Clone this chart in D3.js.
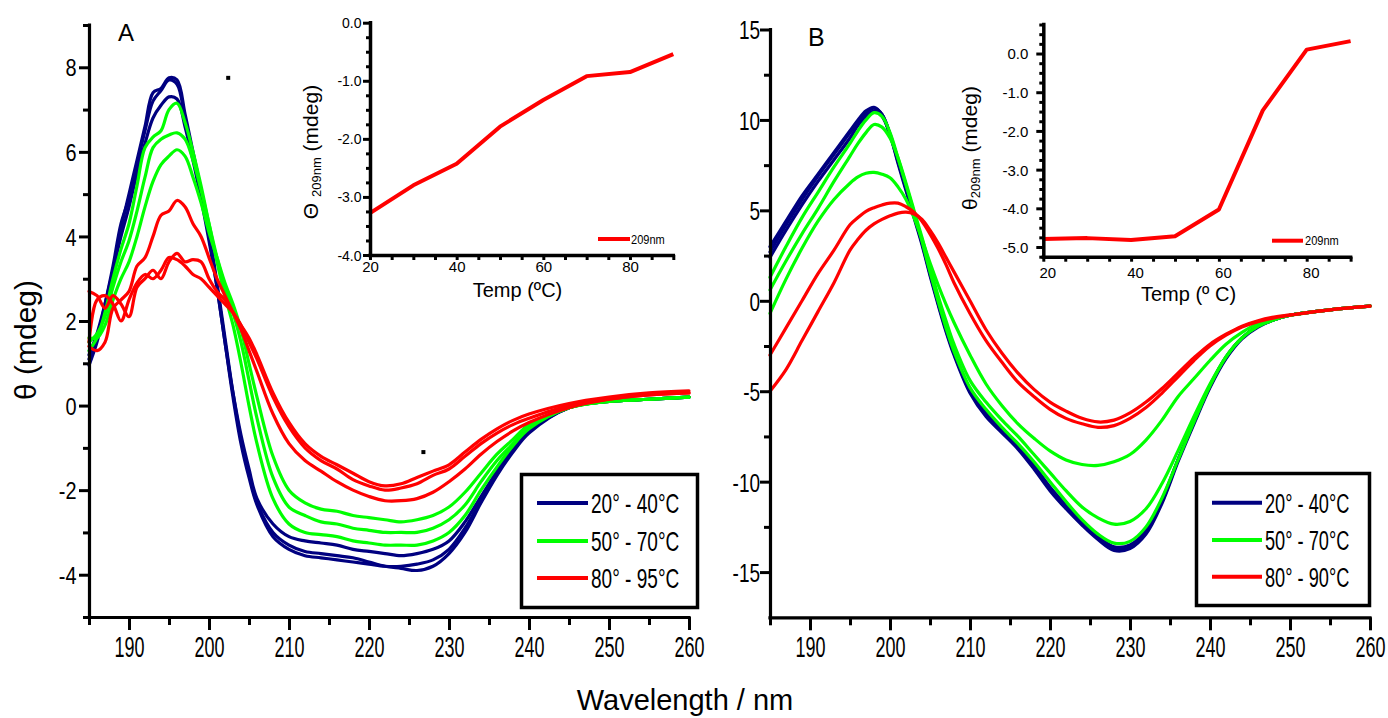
<!DOCTYPE html>
<html>
<head>
<meta charset="utf-8">
<script src="https://cdn.jsdelivr.net/npm/d3@7"></script>
<style>
  body { margin: 0; background: #fff; }
  svg { display: block; }
</style>
</head>
<body>
<svg id="chart" width="1388" height="718"></svg>
<script>
// ---------------- DATA ----------------
// Panel A: wavelengths (nm) and ellipticity (mdeg)
const wavesA = [185,186,187,188,189,190,191,192,193,194,195,196,197,198,199,200,201,202,203,204,205,
  206,208,210,212,214,216,218,220,222,224,226,228,230,232,234,236,238,240,245,250,255,260];
const A_20C = [0.95,1.5,2.3,3.2,4.2,5.0,5.8,6.6,7.4,7.5,7.75,7.7,6.9,6.0,5.1,4.1,2.9,1.6,0.3,-0.8,-1.6,
  -2.3,-3.0,-3.3,-3.45,-3.5,-3.55,-3.6,-3.7,-3.8,-3.85,-3.9,-3.8,-3.5,-3.0,-2.3,-1.65,-1.1,-0.65,-0.05,0.1,0.15,0.2];
const A_30C = [1.1,1.6,2.4,3.3,4.3,4.9,5.7,6.5,7.2,7.45,7.7,7.6,6.8,5.9,5.0,4.0,2.8,1.5,0.2,-0.9,-1.7,
  -2.35,-3.1,-3.4,-3.55,-3.6,-3.65,-3.7,-3.75,-3.8,-3.8,-3.75,-3.65,-3.4,-2.9,-2.25,-1.6,-1.05,-0.6,-0.05,0.1,0.15,0.2];
const A_40C = [1.2,1.7,2.4,3.2,4.0,4.7,5.5,6.2,6.8,7.1,7.3,7.25,6.6,5.8,4.9,3.9,2.8,1.5,0.3,-0.7,-1.5,
  -2.2,-2.8,-3.1,-3.2,-3.25,-3.3,-3.4,-3.45,-3.5,-3.55,-3.5,-3.4,-3.2,-2.75,-2.15,-1.55,-1.0,-0.6,-0.05,0.1,0.15,0.2];
const A_50C = [1.3,1.6,2.2,3.0,3.7,4.3,5.2,6.1,6.35,6.5,7.0,7.15,6.7,6.0,5.2,4.3,3.4,2.6,1.9,1.0,0.0,
  -0.9,-2.2,-2.8,-3.0,-3.05,-3.1,-3.2,-3.25,-3.3,-3.3,-3.3,-3.2,-3.0,-2.6,-2.0,-1.45,-0.95,-0.55,-0.05,0.1,0.15,0.2];
const A_60C = [1.5,1.7,2.1,2.8,3.4,3.9,4.6,5.4,6.1,6.3,6.4,6.45,6.3,5.8,5.1,4.3,3.5,2.8,2.2,1.5,0.6,
  -0.3,-1.7,-2.4,-2.6,-2.75,-2.8,-2.9,-2.95,-3.0,-3.0,-3.0,-2.9,-2.7,-2.35,-1.8,-1.3,-0.9,-0.5,-0.05,0.1,0.15,0.2];
const A_70C = [1.6,1.6,1.9,2.5,3.0,3.4,4.0,4.7,5.3,5.7,5.9,6.05,5.9,5.4,4.8,4.1,3.5,2.9,2.4,1.8,1.0,
  0.2,-1.2,-2.0,-2.3,-2.45,-2.5,-2.6,-2.65,-2.7,-2.75,-2.7,-2.6,-2.4,-2.05,-1.6,-1.15,-0.8,-0.45,-0.05,0.1,0.15,0.2];
const A_80C = [1.4,1.3,1.5,2.3,2.5,2.7,3.3,3.5,4.0,4.5,4.6,4.85,4.7,4.3,4.0,3.5,3.0,2.6,2.2,1.8,1.3,
  0.8,-0.2,-0.9,-1.3,-1.55,-1.8,-2.0,-2.15,-2.25,-2.25,-2.2,-2.05,-1.8,-1.5,-1.15,-0.85,-0.6,-0.4,-0.05,0.15,0.25,0.3];
const A_90C = [2.7,2.6,2.3,2.6,2.4,2.1,2.8,3.0,3.2,3.0,3.4,3.6,3.4,3.45,3.4,3.0,2.7,2.5,2.2,1.9,1.5,
  1.1,0.2,-0.5,-1.0,-1.3,-1.5,-1.75,-1.9,-2.0,-1.95,-1.85,-1.65,-1.5,-1.2,-0.9,-0.65,-0.45,-0.3,0.0,0.15,0.25,0.3];
const A_95C = [1.5,2.5,2.6,2.4,2.0,2.5,2.9,3.1,3.0,3.2,3.5,3.45,3.3,3.1,3.0,2.8,2.6,2.4,2.2,1.9,1.6,
  1.2,0.3,-0.4,-0.9,-1.2,-1.4,-1.6,-1.8,-1.9,-1.85,-1.7,-1.55,-1.4,-1.1,-0.8,-0.55,-0.35,-0.2,0.05,0.2,0.3,0.35];

// Panel B
const wavesB = [185,187,189,191,193,195,196,197,198,199,200,201,202,203,204,205,206,207,208,
  210,212,214,216,218,220,222,224,226,228,230,232,234,236,238,240,242,244,246,248,250,255,260];
const B_20C = [3.0,4.4,5.8,7.0,8.2,9.4,10.0,10.5,10.7,10.3,9.2,7.6,6.1,4.6,3.1,1.4,-0.2,-1.7,-3.0,
  -5.1,-6.4,-7.3,-8.2,-9.3,-10.5,-11.5,-12.4,-13.2,-13.8,-13.7,-12.9,-11.2,-8.9,-6.8,-4.8,-3.2,-2.1,-1.45,-1.05,-0.8,-0.5,-0.3];
const B_30C = [2.7,4.2,5.6,6.9,8.1,9.3,9.9,10.4,10.65,10.3,9.2,7.7,6.2,4.7,3.2,1.5,-0.1,-1.6,-2.9,
  -5.0,-6.3,-7.2,-8.1,-9.2,-10.4,-11.4,-12.3,-13.1,-13.7,-13.6,-12.8,-11.1,-8.8,-6.7,-4.7,-3.15,-2.05,-1.4,-1.05,-0.8,-0.5,-0.3];
const B_40C = [2.4,3.9,5.3,6.6,7.8,9.0,9.7,10.2,10.5,10.2,9.2,7.8,6.3,4.8,3.3,1.6,0.0,-1.5,-2.8,
  -4.9,-6.2,-7.1,-8.0,-9.1,-10.3,-11.3,-12.2,-13.0,-13.6,-13.5,-12.7,-11.0,-8.8,-6.7,-4.7,-3.1,-2.05,-1.4,-1.05,-0.8,-0.5,-0.3];
const B_50C = [1.3,3.0,4.6,6.0,7.4,8.7,9.4,10.0,10.4,10.2,9.3,7.9,6.4,4.9,3.3,1.6,0.0,-1.5,-2.8,
  -4.8,-6.0,-7.0,-7.9,-8.9,-10.0,-11.1,-12.1,-12.9,-13.4,-13.3,-12.5,-10.9,-8.8,-6.7,-4.7,-3.1,-2.05,-1.4,-1.05,-0.8,-0.5,-0.3];
const B_60C = [0.6,2.2,3.7,5.1,6.6,8.0,8.7,9.3,9.75,9.6,9.0,7.9,6.5,5.0,3.5,1.9,0.3,-1.1,-2.4,
  -4.4,-5.6,-6.6,-7.5,-8.5,-9.5,-10.5,-11.4,-12.0,-12.35,-12.2,-11.5,-10.1,-8.3,-6.4,-4.6,-3.1,-2.05,-1.4,-1.05,-0.8,-0.5,-0.3];
const B_70C = [-0.7,1.2,2.9,4.4,5.6,6.5,6.85,7.05,7.1,7.0,6.8,6.3,5.6,4.6,3.4,2.1,0.9,-0.2,-1.2,
  -3.0,-4.6,-5.8,-6.8,-7.6,-8.3,-8.8,-9.05,-9.1,-8.9,-8.5,-7.7,-6.6,-5.3,-4.3,-3.3,-2.4,-1.75,-1.25,-0.95,-0.8,-0.5,-0.3];
const B_80C = [-3.0,-1.5,0.0,1.5,2.8,4.2,4.6,4.95,5.15,5.3,5.4,5.4,5.2,4.9,4.4,3.7,2.9,2.0,1.0,
  -0.7,-2.2,-3.4,-4.5,-5.3,-6.0,-6.5,-6.8,-7.0,-6.9,-6.5,-5.9,-5.1,-4.2,-3.3,-2.5,-1.9,-1.45,-1.15,-0.95,-0.8,-0.5,-0.3];
const B_90C = [-5.0,-3.8,-2.2,-0.6,1.0,2.8,3.4,3.9,4.25,4.5,4.7,4.85,4.9,4.8,4.5,3.9,3.2,2.4,1.6,
  0.0,-1.6,-2.9,-4.0,-4.9,-5.6,-6.1,-6.5,-6.7,-6.6,-6.2,-5.6,-4.85,-4.0,-3.15,-2.4,-1.85,-1.4,-1.1,-0.9,-0.78,-0.5,-0.3];

// stray marks in panel A (wavelength, mdeg)
const strayWaves = [202.4, 226.8];
const strayVals = [7.75, -1.1];

// Insets: theta at 209 nm vs temperature
const insetTemps = [20,30,40,50,60,70,80,90];
const insetA_209 = [-3.28,-2.8,-2.43,-1.79,-1.33,-0.92,-0.85,-0.54];
const insetB_209 = [-4.79,-4.77,-4.82,-4.72,-4.03,-1.47,0.10,0.32];

// Tick values
const xTicksMajor = [190,200,210,220,230,240,250,260];
const xTicksMinor = [185,195,205,215,225,235,245,255];
const yTicksA = [-4,-2,0,2,4,6,8];
const yTicksAminor = [-5,-3,-1,1,3,5,7,9];
const yTicksB = [-15,-10,-5,0,5,10,15];
const yTicksBminor = [-12.5,-7.5,-2.5,2.5,7.5,12.5];
const insetXLabels = [20,40,60,80];
const insetXTicks = [25,30,35,45,50,55,65,70,75,85,90];
const insetAYTicks = [0,-1,-2,-3,-4];
const insetBYTicks = [0,-1,-2,-3,-4,-5];

// Legends
const legendLabelsA = ["20\u00B0 - 40\u00B0C", "50\u00B0 - 70\u00B0C", "80\u00B0 - 95\u00B0C"];
const legendLabelsB = ["20\u00B0 - 40\u00B0C", "50\u00B0 - 70\u00B0C", "80\u00B0 - 90\u00B0C"];
const legendColors = ["#000080", "#00ff00", "#ff0000"];

// ---------------- DRAWING ----------------
const FONT = '"Liberation Sans", Arial, Helvetica, sans-serif';
const svg = d3.select("#chart");
svg.append("rect").attr("width", 1388).attr("height", 718).attr("fill", "#fff");

const xA = d3.scaleLinear().domain([185, 260]).range([89, 689]);
const yA = d3.scaleLinear().domain([-5, 9]).range([617, 25]);
const xB = d3.scaleLinear().domain([185, 260]).range([770, 1370]);
const yB = d3.scaleLinear().domain([-17.5, 15]).range([617.3, 29.5]);
const xIA = d3.scaleLinear().domain([20, 90]).range([370, 673.3]);
const yIA = d3.scaleLinear().domain([-4, 0]).range([255, 22.7]);
const xIB = d3.scaleLinear().domain([20, 90]).range([1043.3, 1350.6]);
const yIB = d3.scaleLinear().domain([-5.25, 0.75]).range([256.7, 24.5]);

function styleTicks(sel, w) {
  sel.selectAll(".tick line").attr("stroke", "#000").attr("stroke-width", w);
}

function leftAxis(x0, scale, majors, minors, cfg) {
  const g = svg.append("g").attr("transform", `translate(${x0},0)`);
  if (minors.length) {
    const gn = g.append("g").call(d3.axisLeft(scale).tickValues(minors).tickSize(cfg.minorLen).tickSizeOuter(0).tickFormat(() => ""));
    gn.select(".domain").remove();
    styleTicks(gn, cfg.tickW);
  }
  const gm = g.append("g").call(d3.axisLeft(scale).tickValues(majors).tickSize(cfg.majorLen).tickSizeOuter(0).tickFormat(cfg.fmt));
  gm.select(".domain").remove();
  styleTicks(gm, cfg.tickW);
  gm.attr("font-family", FONT).attr("font-size", cfg.fs);
  gm.selectAll(".tick text").attr("fill", "#000").attr("x", -cfg.gap / cfg.sx).attr("dy", "0.36em")
    .attr("transform", `scale(${cfg.sx},1)`);
  const r = scale.range();
  g.append("line").attr("x1", 0.5).attr("x2", 0.5).attr("y1", r[0]).attr("y2", r[1])
    .attr("stroke", "#000").attr("stroke-width", cfg.axisW).attr("stroke-linecap", "square");
}

function bottomAxis(y0, scale, labelled, others, cfg) {
  const g = svg.append("g").attr("transform", `translate(0,${y0})`);
  if (others.length) {
    const gn = g.append("g").call(d3.axisBottom(scale).tickValues(others).tickSize(cfg.minorLen).tickSizeOuter(0).tickFormat(() => ""));
    gn.select(".domain").remove();
    styleTicks(gn, cfg.tickW);
  }
  const gm = g.append("g").call(d3.axisBottom(scale).tickValues(labelled).tickSize(cfg.majorLen).tickSizeOuter(0).tickFormat(cfg.fmt));
  gm.select(".domain").remove();
  styleTicks(gm, cfg.tickW);
  gm.attr("font-family", FONT).attr("font-size", cfg.fs);
  gm.selectAll(".tick text").attr("fill", "#000").attr("y", cfg.labelY).attr("dy", cfg.dy)
    .attr("dx", cfg.dx || 0).attr("transform", `scale(${cfg.sx},1)`);
  const r = scale.range();
  g.append("line").attr("y1", 0.5).attr("y2", 0.5).attr("x1", r[0]).attr("x2", r[1])
    .attr("stroke", "#000").attr("stroke-width", cfg.axisW).attr("stroke-linecap", "square");
}

const intFmt = d => String(d);
const decFmt = d => d.toFixed(1);

function drawSpectra(xs, ys, waves, series) {
  const g = svg.append("g");
  series.forEach(s => {
    const line = d3.line().x((d, i) => xs(waves[i])).y(d => ys(d)).curve(d3.curveCatmullRom.alpha(0.5));
    g.append("path").attr("d", line(s.values)).attr("fill", "none").attr("stroke", s.color)
      .attr("stroke-width", 3.2).attr("stroke-linejoin", "round").attr("stroke-linecap", "round");
  });
}

// ---- Panel A ----
drawSpectra(xA, yA, wavesA, [
  {values: A_20C, color: legendColors[0]}, {values: A_30C, color: legendColors[0]}, {values: A_40C, color: legendColors[0]},
  {values: A_50C, color: legendColors[1]}, {values: A_60C, color: legendColors[1]}, {values: A_70C, color: legendColors[1]},
  {values: A_80C, color: legendColors[2]}, {values: A_90C, color: legendColors[2]}, {values: A_95C, color: legendColors[2]}
]);
svg.append("g").selectAll("rect").data(strayWaves).join("rect")
  .attr("x", (d) => xA(d) - 2).attr("y", (d, i) => yA(strayVals[i]) - 2)
  .attr("width", 4).attr("height", 4).attr("fill", "#000");

leftAxis(89, yA, yTicksA, yTicksAminor, {majorLen: 10, minorLen: 6, tickW: 3, axisW: 3.2, fmt: intFmt, fs: 24, sx: 0.83, gap: 12.5});
bottomAxis(617, xA, xTicksMajor, xTicksMinor, {majorLen: 13, minorLen: 8, tickW: 3, axisW: 3.2, fmt: intFmt, fs: 30, sx: 0.6, labelY: 18, dy: "0.72em"});

svg.append("text").attr("x", 118).attr("y", 41).attr("font-family", FONT).attr("font-size", 24).text("A");

// ---- Panel B ----
drawSpectra(xB, yB, wavesB, [
  {values: B_20C, color: legendColors[0]}, {values: B_30C, color: legendColors[0]}, {values: B_40C, color: legendColors[0]},
  {values: B_50C, color: legendColors[1]}, {values: B_60C, color: legendColors[1]}, {values: B_70C, color: legendColors[1]},
  {values: B_80C, color: legendColors[2]}, {values: B_90C, color: legendColors[2]}
]);
leftAxis(770, yB, yTicksB, yTicksBminor, {majorLen: 10, minorLen: 6, tickW: 3, axisW: 3.2, fmt: intFmt, fs: 26, sx: 0.73, gap: 10});
bottomAxis(617.3, xB, xTicksMajor, xTicksMinor, {majorLen: 13, minorLen: 8, tickW: 3, axisW: 3.2, fmt: intFmt, fs: 30, sx: 0.6, labelY: 18, dy: "0.72em"});

svg.append("text").attr("x", 808).attr("y", 46).attr("font-family", FONT).attr("font-size", 25).text("B");

// ---- Legends ----
function legend(x, y, w, h, labels, lineX1, lineX2, textX, rowsY, sx) {
  svg.append("rect").attr("x", x).attr("y", y).attr("width", w).attr("height", h)
    .attr("fill", "#fff").attr("stroke", "#000").attr("stroke-width", 3.5);
  labels.forEach((lab, i) => {
    svg.append("line").attr("x1", lineX1).attr("x2", lineX2).attr("y1", rowsY[i]).attr("y2", rowsY[i])
      .attr("stroke", legendColors[i]).attr("stroke-width", 4);
    svg.append("text").attr("transform", `translate(${textX},${rowsY[i] + 10}) scale(${sx},1)`)
      .attr("font-family", FONT).attr("font-size", 28).attr("fill", "#000").text(lab);
  });
}
legend(521.5, 474.5, 176, 133, legendLabelsA, 537, 588, 591, [503, 541, 578], 0.68);
legend(1196.5, 473.5, 173, 132, legendLabelsB, 1212, 1262, 1265, [502.7, 540, 576.7], 0.65);

// ---- Insets ----
function insetLine(xs, ys, vals) {
  const line = d3.line().x((d, i) => xs(insetTemps[i])).y(d => ys(d));
  svg.append("path").attr("d", line(vals)).attr("fill", "none").attr("stroke", "#ff0000")
    .attr("stroke-width", 4).attr("stroke-linejoin", "round");
}
insetLine(xIA, yIA, insetA_209);
insetLine(xIB, yIB, insetB_209);

const quarterTicks = (lo, hi, majors) => d3.range(lo, hi + 0.001, 0.25).filter(v => !majors.some(m => Math.abs(m - v) < 1e-6));
leftAxis(370, yIA, insetAYTicks, quarterTicks(-4, 0, insetAYTicks), {majorLen: 7, minorLen: 4, tickW: 3, axisW: 3.5, fmt: decFmt, fs: 14, sx: 1, gap: 8.5});
bottomAxis(255, xIA, insetXLabels, insetXTicks, {majorLen: 5, minorLen: 5, tickW: 3, axisW: 3.5, fmt: intFmt, fs: 15, sx: 1, labelY: 17, dy: "0"});
leftAxis(1043.3, yIB, insetBYTicks, quarterTicks(-5.25, 0.75, insetBYTicks), {majorLen: 7, minorLen: 4, tickW: 3, axisW: 3.5, fmt: decFmt, fs: 15, sx: 1, gap: 15});
bottomAxis(256.7, xIB, insetXLabels, insetXTicks, {majorLen: 5, minorLen: 5, tickW: 3, axisW: 3.5, fmt: intFmt, fs: 15, sx: 1, labelY: 21, dy: "0", dx: 4});

// inset titles
svg.append("text").attr("x", 517.5).attr("y", 297).attr("text-anchor", "middle")
  .attr("font-family", FONT).attr("font-size", 20).text("Temp (\u00BAC)");
svg.append("text").attr("x", 1188.5).attr("y", 301).attr("text-anchor", "middle")
  .attr("font-family", FONT).attr("font-size", 20).text("Temp (\u00BA C)");

const tA = svg.append("text").attr("transform", "translate(318,152) rotate(-90)").attr("text-anchor", "middle")
  .attr("font-family", FONT).attr("font-size", 21);
tA.append("tspan").text("\u0398 ");
tA.append("tspan").attr("font-size", 13).attr("dy", 3).text("209nm");
tA.append("tspan").attr("dy", -3).text(" (mdeg)");

const tB = svg.append("text").attr("transform", "translate(977,148) rotate(-90)").attr("text-anchor", "middle")
  .attr("font-family", FONT).attr("font-size", 21);
tB.append("tspan").text("\u03B8");
tB.append("tspan").attr("font-size", 13).attr("dy", 3).text("209nm");
tB.append("tspan").attr("dy", -3).text(" (mdeg)");

// inset legends
function insetLegend(x1, x2, y, tx) {
  svg.append("line").attr("x1", x1).attr("x2", x2).attr("y1", y).attr("y2", y).attr("stroke", "#ff0000").attr("stroke-width", 4);
  svg.append("text").attr("transform", `translate(${tx},${y + 4.5}) scale(0.85,1)`).attr("font-family", FONT)
    .attr("font-size", 13).text("209nm");
}
insetLegend(598, 630, 239, 631);
insetLegend(1272, 1303, 240.7, 1305);

// ---- Main axis titles ----
svg.append("text").attr("transform", "translate(36,340) rotate(-90)").attr("text-anchor", "middle")
  .attr("font-family", FONT).attr("font-size", 30).text("\u03B8  (mdeg)");
svg.append("text").attr("x", 685).attr("y", 710).attr("text-anchor", "middle")
  .attr("font-family", FONT).attr("font-size", 29).text("Wavelength / nm");
</script>
</body>
</html>
